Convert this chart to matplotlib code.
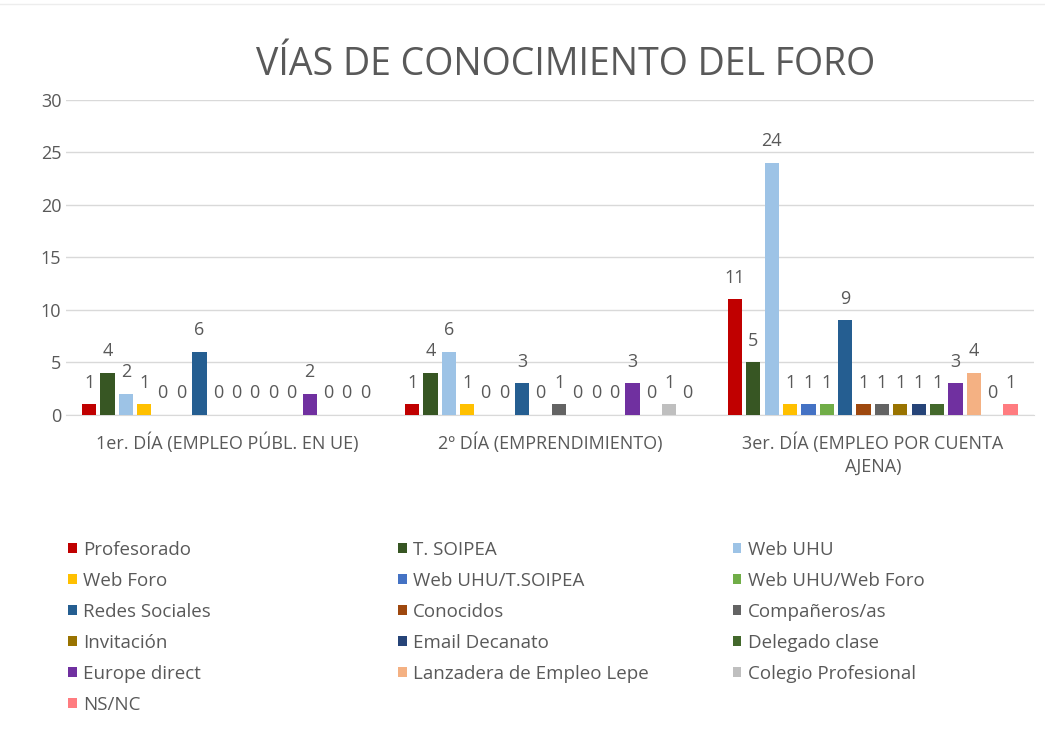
import numpy as np
import matplotlib
matplotlib.use('Agg')
import matplotlib.pyplot as plt
from matplotlib.patches import Patch
from matplotlib.lines import Line2D

plt.rcParams['font.family'] = ['Open Sans', 'DejaVu Sans']

# data
categories = ['1er. DÍA (EMPLEO PÚBL. EN UE)', '2º DÍA (EMPRENDIMIENTO)',
              '3er. DÍA (EMPLEO POR CUENTA\nAJENA)']
series = ['Profesorado', 'T. SOIPEA', 'Web UHU', 'Web Foro', 'Web UHU/T.SOIPEA',
          'Web UHU/Web Foro', 'Redes Sociales', 'Conocidos', 'Compañeros/as',
          'Invitación', 'Email Decanato', 'Delegado clase', 'Europe direct',
          'Lanzadera de Empleo Lepe', 'Colegio Profesional', 'NS/NC']
dia1 = [1, 4, 2, 1, 0, 0, 6, 0, 0, 0, 0, 0, 2, 0, 0, 0]
dia2 = [1, 4, 6, 1, 0, 0, 3, 0, 1, 0, 0, 0, 3, 0, 1, 0]
dia3 = [11, 5, 24, 1, 1, 1, 9, 1, 1, 1, 1, 1, 3, 4, 0, 1]
colors = ['#C00000', '#375623', '#9DC3E6', '#FFC000', '#4472C4', '#70AD47',
          '#255E91', '#9E480E', '#636363', '#997300', '#264478', '#43682B',
          '#7030A0', '#F4B183', '#BFBFBF', '#FF7C80']

values = np.array([dia1, dia2, dia3])
grey = '#595959'

fig = plt.figure(figsize=(10.45, 7.29), dpi=100)
ax = fig.add_axes([0.0627, 0.431, 0.927, 0.432])

# faint frame line at the very top, as in the screenshot
fig.add_artist(Line2D([0.0, 1.0], [0.994, 0.994], transform=fig.transFigure,
                      color='#EDEDED', linewidth=1))

n = len(series)
slot = 0.0569
width = 0.044
x = np.arange(len(categories))
for i in range(n):
    pos = x + (i - (n - 1) / 2) * slot
    bars = ax.bar(pos, values[:, i], width, color=colors[i], label=series[i], zorder=3)
    for b, v in zip(bars, values[:, i]):
        ax.annotate(str(v), (b.get_x() + b.get_width() / 2, v),
                    xytext=(0, 9), textcoords='offset points',
                    ha='center', va='bottom', fontsize=13, color=grey)

ax.set_ylim(0, 30)
ax.set_xlim(-0.5, 2.5)
ax.set_yticks(range(0, 31, 5))
ax.yaxis.grid(True, color='#D9D9D9', linewidth=1, zorder=0)
ax.set_xticks(x)
ax.set_xticklabels(categories, fontsize=13, color=grey, linespacing=1.3)
ax.tick_params(axis='both', length=0, labelsize=13, colors=grey)
ax.tick_params(axis='x', pad=13)
ax.tick_params(axis='y', pad=3)
for s in ['top', 'right', 'left']:
    ax.spines[s].set_visible(False)
ax.spines['bottom'].set_color('#D9D9D9')

fig.text(0.541, 0.911, 'VÍAS DE CONOCIMIENTO DEL FORO', ha='center', va='center',
         fontsize=27, color=grey)

# legend laid out in three columns, row-wise order
handles = [Patch(facecolor=c, edgecolor='none') for c in colors]
col_x = [0.058, 0.374, 0.694]
for c in range(3):
    idx = list(range(c, n, 3))
    leg = fig.legend([handles[i] for i in idx], [series[i] for i in idx],
                     loc='upper left', bbox_to_anchor=(col_x[c], 0.268),
                     frameon=False, fontsize=13.5, labelcolor=grey,
                     handlelength=0.45, handleheight=0.45, handletextpad=0.35,
                     labelspacing=0.69, borderaxespad=0)

fig.savefig('out.png', dpi=100)
